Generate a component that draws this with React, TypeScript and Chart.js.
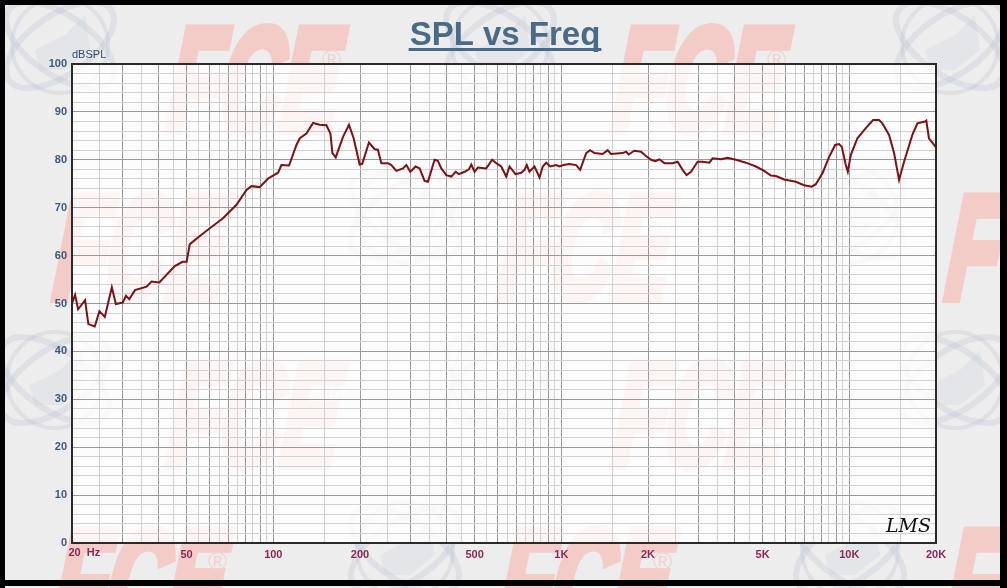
import React, { useEffect, useRef } from "react";
import { Chart, registerables } from "chart.js";

Chart.register(...registerables);

// ---- data ----
const FREQ_HZ = [
  20, 20.5, 21.0, 22.2, 22.8, 24.0, 24.9, 26.0, 27.5, 28.4,
  30.0, 30.8, 31.6, 33.1, 36.3, 37.8, 40.2, 45.5, 48.4, 50.0,
  51.3, 55.6, 60.2, 66.9, 74.5, 80.7, 84.0, 89.7, 95.9, 103.9,
  106.7, 113.4, 120.3, 123.6, 130.3, 137.4, 144.9, 152.9, 157.9, 160.4,
  164.7, 174.6, 183.1, 190.1, 199.5, 203.8, 214.8, 224.9, 230.8, 237.2,
  250.0, 256.9, 267.5, 281.9, 289.7, 299.1, 312.0, 322.1, 335.2, 344.2,
  363.1, 372.8, 383.1, 398.8, 415.0, 429.5, 441.0, 461.5, 477.6, 486.9,
  499.8, 513.2, 548.8, 575.6, 594.3, 618.6, 643.8, 660.9, 693.3, 725.7,
  745.0, 758.8, 775.4, 807.0, 840.1, 862.5, 886.2, 915.0, 959.8, 985.4,
  1017, 1067, 1126, 1163, 1220, 1259, 1303, 1392, 1449, 1489,
  1633, 1678, 1713, 1793, 1892, 1969, 2049, 2120, 2190, 2280,
  2435, 2534, 2638, 2723, 2820, 2974, 3094, 3266, 3352, 3584,
  3778, 4040, 4376, 4740, 5064, 5342, 5560, 5942, 6522, 6968,
  7410, 7650, 8068, 8512, 8930, 9218, 9418, 9724, 9880, 10120,
  10668, 11410, 12094, 12688, 13028, 13742, 14304, 14886, 15492, 16556,
  17230, 18316, 18506, 18906, 20000,
];

const SPL_DB = [
  50.0, 51.8, 48.8, 50.7, 45.7, 45.2, 48.4, 47.2, 53.4, 49.9,
  50.2, 51.6, 50.9, 52.8, 53.5, 54.6, 54.4, 57.8, 58.7, 58.7,
  62.4, 64.1, 65.7, 67.8, 70.6, 73.7, 74.5, 74.3, 76.1, 77.3,
  78.9, 78.8, 83.1, 84.5, 85.5, 87.7, 87.3, 87.2, 85.5, 81.4,
  80.5, 84.8, 87.3, 84.5, 79.0, 79.2, 83.6, 82.2, 82.1, 79.3,
  79.3, 78.9, 77.7, 78.2, 78.9, 77.5, 78.6, 78.2, 75.6, 75.4,
  80.0, 79.8, 78.2, 76.8, 76.5, 77.5, 77.0, 77.5, 78.0, 79.0,
  77.5, 78.4, 78.2, 80.0, 79.3, 78.6, 76.5, 78.6, 77.0, 77.3,
  77.9, 78.9, 77.5, 78.6, 76.3, 78.6, 79.4, 78.6, 78.9, 78.6,
  78.9, 79.1, 78.9, 77.9, 81.4, 82.0, 81.4, 81.2, 82.0, 81.2,
  81.4, 81.7, 81.1, 81.9, 81.7, 80.8, 80.0, 79.7, 80.1, 79.3,
  79.3, 79.6, 77.9, 76.8, 77.5, 79.6, 79.6, 79.4, 80.3, 80.1,
  80.4, 80.0, 79.4, 78.6, 77.7, 76.7, 76.6, 75.9, 75.4, 74.7,
  74.4, 74.9, 77.2, 80.6, 83.1, 83.3, 82.7, 78.9, 77.5, 81.0,
  84.5, 86.6, 88.3, 88.3, 87.6, 85.2, 81.4, 75.8, 79.6, 85.2,
  87.6, 88.0, 88.2, 84.5, 82.6,
];

const X_LABEL_VALUES = [50, 100, 200, 500, 1000, 2000, 5000, 10000, 20000];
const X_LABEL_TEXTS = ["50", "100", "200", "500", "1K", "2K", "5K", "10K", "20K"];
const X_FIRST_LABEL = "20  Hz";
const X_MIN = 20;
const X_MAX = 20000;
const Y_MIN = 0;
const Y_MAX = 100;
const Y_LABEL_STEP = 10;
const Y_GRID_STEP = 2;
const TITLE = "SPL vs Freq";
const Y_UNIT = "dBSPL";
const SIGNATURE = "LMS";
const WATERMARK = "FCE";

const FONT = "'Liberation Sans', Arial, sans-serif";

function decadeOf(v: number) {
  return Math.pow(10, Math.floor(Math.log10(v) + 1e-9));
}

function buildLogGridValues(): number[] {
  const out: number[] = [];
  for (let d = 10; d <= 10000; d *= 10) {
    for (let m = 1.5; m <= 10.001; m += 0.5) {
      const v = Math.round(d * m * 1000) / 1000;
      if (v >= X_MIN - 1e-6 && v <= X_MAX + 1e-6 && !out.includes(v)) out.push(v);
    }
  }
  return out.sort((a, b) => a - b);
}

function drawFCE(ctx: CanvasRenderingContext2D, x: number, baseY: number) {
  ctx.save();
  ctx.translate(x, baseY);
  ctx.transform(0.58, 0, -0.2, 1, 0, 0);
  ctx.font = `900 146px ${FONT}`;
  ctx.fillStyle = "#F4CCC7";
  ctx.strokeStyle = "#F4CCC7";
  ctx.lineWidth = 10;
  ctx.lineJoin = "miter";
  ctx.textBaseline = "alphabetic";
  ctx.textAlign = "left";
  ctx.strokeText(WATERMARK, 0, 0);
  ctx.fillText(WATERMARK, 0, 0);
  ctx.restore();
  ctx.save();
  ctx.font = `26px ${FONT}`;
  ctx.fillStyle = "#F2D2CE";
  ctx.textBaseline = "alphabetic";
  ctx.fillText("\u00AE", x + 160, baseY - 62);
  ctx.restore();
}

function drawAtom(ctx: CanvasRenderingContext2D, cx: number, cy: number) {
  ctx.save();
  ctx.strokeStyle = "rgba(170,178,200,0.22)";
  ctx.lineWidth = 6;
  ctx.beginPath();
  ctx.ellipse(cx, cy, 62, 30, -0.6, 0, Math.PI * 2);
  ctx.stroke();
  ctx.beginPath();
  ctx.ellipse(cx, cy, 62, 30, 0.6, 0, Math.PI * 2);
  ctx.stroke();
  ctx.lineWidth = 4;
  ctx.beginPath();
  ctx.arc(cx, cy, 48, 0, Math.PI * 2);
  ctx.stroke();
  ctx.fillStyle = "rgba(175,185,205,0.16)";
  ctx.beginPath();
  ctx.moveTo(cx - 25, cy + 5);
  ctx.lineTo(cx + 5, cy - 10);
  ctx.lineTo(cx + 25, cy - 30);
  ctx.lineTo(cx + 30, cy + 5);
  ctx.lineTo(cx + 5, cy + 25);
  ctx.lineTo(cx - 20, cy + 25);
  ctx.closePath();
  ctx.fill();
  ctx.restore();
}

const decorPlugin = {
  id: "decor",
  beforeDraw(chart: any) {
    const { ctx, width, height, chartArea } = chart;
    ctx.save();
    ctx.fillStyle = "#EDEDED";
    ctx.fillRect(0, 0, width, height);
    const atoms = [
      [60, 45], [500, 45], [950, 45],
      [405, 215], [850, 215],
      [55, 380], [500, 380], [955, 380],
      [405, 550], [850, 550],
    ];
    atoms.forEach(([x, y]) => drawAtom(ctx, x, y));
    const marks = [
      [162, 130], [607, 130],
      [48, 298], [493, 298], [940, 298],
      [162, 465], [607, 465],
      [48, 632], [493, 632], [940, 632],
    ];
    marks.forEach(([x, y]) => drawFCE(ctx, x, y));
    ctx.fillStyle = "rgba(255,255,255,0.8)";
    ctx.fillRect(chartArea.left, chartArea.top, chartArea.right - chartArea.left, chartArea.bottom - chartArea.top);
    ctx.restore();
  },
  afterDraw(chart: any) {
    const { ctx, width, height, chartArea } = chart;
    const xs = chart.scales.x;
    ctx.save();
    // plot frame
    ctx.strokeStyle = "#2A2A2A";
    ctx.lineWidth = 2;
    ctx.strokeRect(chartArea.left, chartArea.top, chartArea.right - chartArea.left, chartArea.bottom - chartArea.top);
    // title
    ctx.font = `bold 33px ${FONT}`;
    ctx.fillStyle = "#4A6B88";
    ctx.textAlign = "center";
    ctx.textBaseline = "alphabetic";
    const tx = 505;
    ctx.fillText(TITLE, tx, 45);
    const w = ctx.measureText(TITLE).width;
    ctx.fillRect(tx - w / 2 - 1, 48, w + 2, 3);
    // y unit
    ctx.font = `11px ${FONT}`;
    ctx.fillStyle = "#2F4B72";
    ctx.textAlign = "left";
    ctx.fillText(Y_UNIT, chartArea.left, 58);
    // first x label
    ctx.font = `bold 11px ${FONT}`;
    ctx.fillStyle = "#8C2856";
    ctx.textBaseline = "middle";
    ctx.fillText(X_FIRST_LABEL, xs.getPixelForValue(X_MIN) - 3.5, chartArea.bottom + 10);
    // signature
    ctx.font = `italic 19px 'DejaVu Serif', serif`;
    ctx.fillStyle = "#111";
    ctx.textBaseline = "alphabetic";
    ctx.fillText(SIGNATURE, chartArea.right - 50, chartArea.bottom - 11);
    // outer black frame
    ctx.fillStyle = "#000";
    ctx.fillRect(0, 0, width, 5);
    ctx.fillRect(0, 0, 5, height);
    ctx.fillRect(1000, 0, 7, height);
    ctx.fillRect(0, 580, width, 6);
    ctx.restore();
  },
};

export default function App() {
  const ref = useRef<HTMLCanvasElement | null>(null);

  useEffect(() => {
    if (!ref.current) return;
    const gridValues = buildLogGridValues();
    const labelMap = new Map<number, string>();
    X_LABEL_VALUES.forEach((v, i) => labelMap.set(v, X_LABEL_TEXTS[i]));

    const chart = new Chart(ref.current, {
      type: "line",
      data: {
        datasets: [
          {
            data: FREQ_HZ.map((f, i) => ({ x: f, y: SPL_DB[i] })),
            borderColor: "#7A1216",
            borderWidth: 2,
            pointRadius: 0,
            tension: 0,
            fill: false,
          },
        ],
      },
      options: {
        animation: false,
        responsive: false,
        devicePixelRatio: 1,
        layout: { padding: { left: 0, top: 64, right: 71, bottom: 0 } },
        plugins: {
          legend: { display: false },
          title: { display: false },
          tooltip: { enabled: false },
        },
        scales: {
          x: {
            type: "logarithmic",
            min: X_MIN,
            max: X_MAX,
            afterBuildTicks: (scale: any) => {
              scale.ticks = gridValues.map((v) => ({ value: v }));
            },
            afterFit: (scale: any) => {
              scale.height = 45;
            },
            border: { display: false },
            grid: {
              drawTicks: false,
              lineWidth: 1,
              color: (c: any) => {
                const v = c.tick ? c.tick.value : 0;
                const m = v / decadeOf(v);
                return Math.abs(m - Math.round(m)) < 1e-6 ? "#9A9A9A" : "#D2D2D2";
              },
            },
            ticks: {
              autoSkip: false,
              maxRotation: 0,
              minRotation: 0,
              padding: 5,
              color: "#8C2856",
              font: { family: FONT, size: 11, weight: "bold" },
              callback: (value: any) => {
                const v = Number(value);
                for (const [k, t] of labelMap) if (Math.abs(k - v) < 1e-6) return t;
                return "";
              },
            },
          },
          y: {
            type: "linear",
            min: Y_MIN,
            max: Y_MAX,
            afterFit: (scale: any) => {
              scale.width = 72;
            },
            border: { display: false },
            grid: {
              drawTicks: false,
              lineWidth: 1,
              color: (c: any) => {
                const v = c.tick ? c.tick.value : 0;
                return v % Y_LABEL_STEP === 0 ? "#9A9A9A" : "#D2D2D2";
              },
            },
            ticks: {
              stepSize: Y_GRID_STEP,
              autoSkip: false,
              padding: 5,
              color: "#3C5A82",
              font: { family: FONT, size: 11, weight: "bold" },
              callback: (value: any) => (Number(value) % Y_LABEL_STEP === 0 ? String(value) : ""),
            },
          },
        },
      },
      plugins: [decorPlugin],
    } as any);

    return () => chart.destroy();
  }, []);

  return (
    <div style={{ position: "fixed", left: 0, top: 0, width: 1007, height: 588 }}>
      <canvas ref={ref} width={1007} height={588} style={{ display: "block", width: 1007, height: 588 }} />
    </div>
  );
}
